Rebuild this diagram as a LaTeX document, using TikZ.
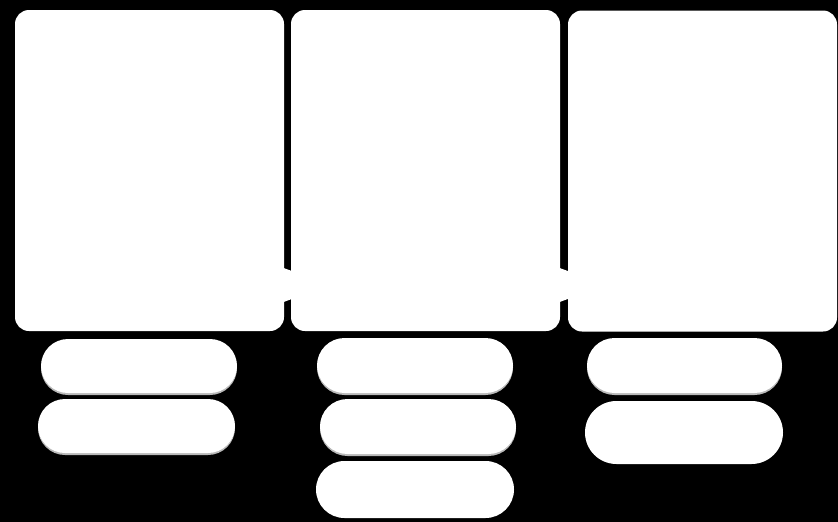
\documentclass[tikz,border=0pt]{standalone}
\usetikzlibrary{calc}
\begin{document}
\begin{tikzpicture}[x=1pt,y=-1pt,
  panel/.style={fill=white,draw=none,rounded corners=14pt,inner sep=0pt},
  plainpill/.style={fill=white,draw=none,inner sep=0pt},
  pill/.style={plainpill,
    preaction={fill=gray!55,transform canvas={yshift=-2pt}}},
  flow/.style={fill=white,draw=none}]
\fill[black] (0,0) rectangle (838,522);
\useasboundingbox (0,0) rectangle (838,522);
% arrows (behind panels)
\coordinate (a1) at (284,170.5);
\coordinate (a2) at (560,170.5);
\fill[flow] ($(a1)+(-14,92.5)$) -- ($(a1)+(-14,136.5)$) -- ($(a1)+(46,114.5)$) -- cycle;
\fill[flow] ($(a2)+(-14,92.5)$) -- ($(a2)+(-14,136.5)$) -- ($(a2)+(46,114.5)$) -- cycle;
% panels
\node[panel,minimum width=269pt,minimum height=321pt] (b1) at (149.5,170.5) {};
\node[panel,minimum width=269pt,minimum height=321pt] (b2) at (425.5,170.5) {};
\node[panel,minimum width=269pt,minimum height=321pt] (b3) at (702.5,171) {};
% pills
\node[pill,rounded corners=27pt,minimum width=196pt,minimum height=54pt] (p11) at (139,366) {};
\node[pill,rounded corners=27pt,minimum width=197pt,minimum height=54pt] (p12) at (136.5,426) {};
\node[pill,rounded corners=27.5pt,minimum width=196pt,minimum height=55pt] (p21) at (415,365.5) {};
\node[pill,rounded corners=27.5pt,minimum width=196pt,minimum height=55pt] (p22) at (418,426.5) {};
\node[plainpill,rounded corners=28.5pt,minimum width=198pt,minimum height=57pt] (p23) at (415,489.5) {};
\node[pill,rounded corners=27.5pt,minimum width=195pt,minimum height=55pt] (p31) at (684.5,365.5) {};
\node[plainpill,rounded corners=31.5pt,minimum width=198pt,minimum height=63pt] (p32) at (684,432.5) {};
\end{tikzpicture}
\end{document}
